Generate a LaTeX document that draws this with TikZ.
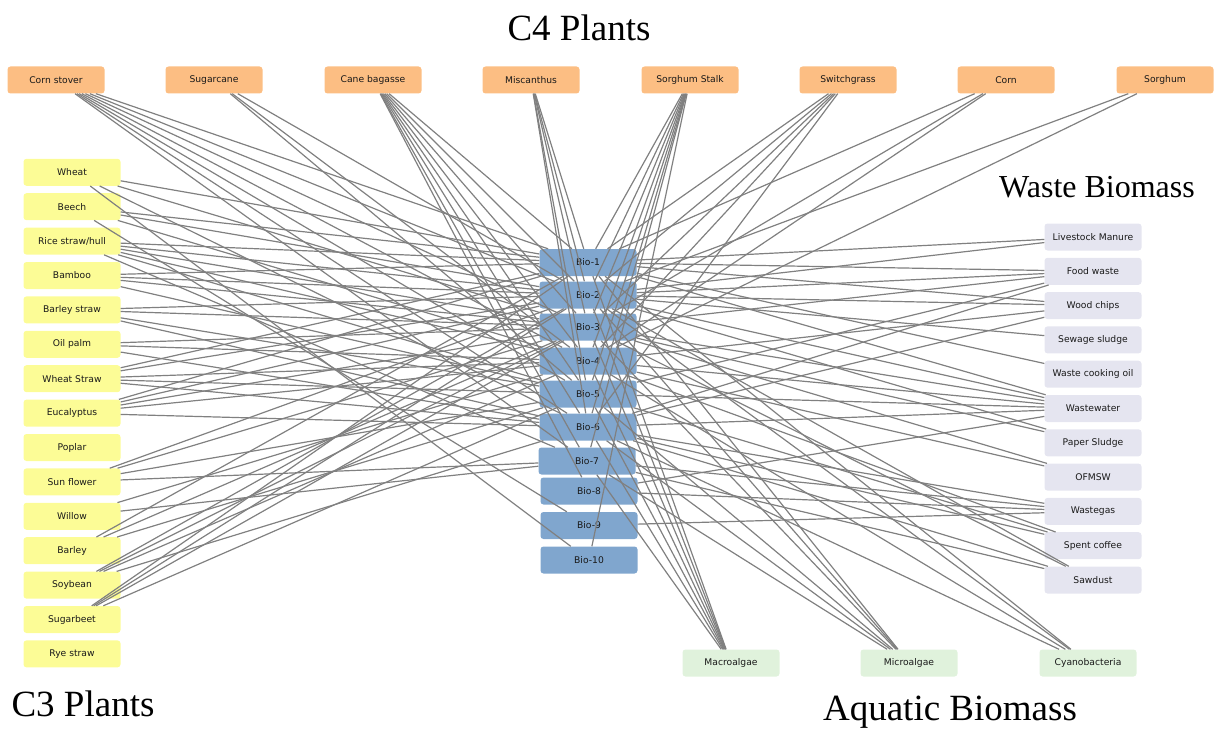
\documentclass[tikz,border=0pt]{standalone}
\usepackage{fontspec}
\setmainfont{Liberation Serif}
\newfontfamily\boxfont{DejaVu Sans}
\definecolor{cfour}{RGB}{252,190,131}
\definecolor{cthree}{RGB}{252,252,150}
\definecolor{waste}{RGB}{229,229,240}
\definecolor{aqua}{RGB}{224,242,220}
\definecolor{biofill}{RGB}{128,166,206}
\definecolor{edgegray}{RGB}{128,128,128}
\definecolor{boxtext}{RGB}{25,25,25}
\tikzset{
  box/.style={rounded corners=3pt, minimum width=97pt, minimum height=27pt,
    inner sep=0pt, font=\boxfont\fontsize{9.2}{10}\selectfont, text=boxtext},
  cfourbox/.style={box, fill=cfour},
  cthreebox/.style={box, fill=cthree},
  wastebox/.style={box, fill=waste},
  aquabox/.style={box, fill=aqua},
  biobox/.style={box, fill=biofill},
  link/.style={draw=edgegray, line width=1.2pt},
  grouptitle/.style={font=\fontsize{37}{40}\selectfont, text=black}
}
\begin{document}
\begin{tikzpicture}[x=1pt,y=-1pt]
\useasboundingbox (0,0) rectangle (1222,733);

% group titles
\node[grouptitle] (tc4) at (579,28) {C4 Plants};
\node[grouptitle, font=\fontsize{32}{36}\selectfont] (twaste) at (1097,187) {Waste Biomass};
\node[grouptitle] (tc3) at (83,704) {C3 Plants};
\node[grouptitle] (taqua) at (950,712) {Aquatic Biomass};

% C4 plants (top row)
\node[cfourbox] (cs) at (56,80)   {Corn stover};
\node[cfourbox] (sc) at (214,80)  {Sugarcane};
\node[cfourbox] (cb) at (373,80)  {Cane bagasse};
\node[cfourbox] (mi) at (531,80)  {Miscanthus};
\node[cfourbox] (ss) at (690,80)  {Sorghum Stalk};
\node[cfourbox] (sw) at (848,80)  {Switchgrass};
\node[cfourbox] (co) at (1006,80) {Corn};
\node[cfourbox] (so) at (1165,80) {Sorghum};

% C3 plants (left column)
\node[cthreebox] (wh) at (72,172.3) {Wheat};
\node[cthreebox] (be) at (72,206.7) {Beech};
\node[cthreebox] (ri) at (72,241.1) {Rice straw/hull};
\node[cthreebox] (ba) at (72,275.5) {Bamboo};
\node[cthreebox] (bs) at (72,309.9) {Barley straw};
\node[cthreebox] (op) at (72,344.3) {Oil palm};
\node[cthreebox] (ws) at (72,378.7) {Wheat Straw};
\node[cthreebox] (eu) at (72,413.1) {Eucalyptus};
\node[cthreebox] (po) at (72,447.5) {Poplar};
\node[cthreebox] (sf) at (72,481.9) {Sun flower};
\node[cthreebox] (wi) at (72,516.3) {Willow};
\node[cthreebox] (bl) at (72,550.7) {Barley};
\node[cthreebox] (sy) at (72,585.1) {Soybean};
\node[cthreebox] (sb) at (72,619.5) {Sugarbeet};
\node[cthreebox] (ry) at (72,653.9) {Rye straw};

% waste biomass (right column)
\node[wastebox] (lm)  at (1093,237.0) {Livestock Manure};
\node[wastebox] (fw)  at (1093,271.3) {Food waste};
\node[wastebox] (wc)  at (1093,305.6) {Wood chips};
\node[wastebox] (ssl) at (1093,339.9) {Sewage sludge};
\node[wastebox] (wco) at (1093,374.2) {Waste cooking oil};
\node[wastebox] (ww)  at (1093,408.5) {Wastewater};
\node[wastebox] (ps)  at (1093,442.8) {Paper Sludge};
\node[wastebox] (of)  at (1093,477.1) {OFMSW};
\node[wastebox] (wg)  at (1093,511.4) {Wastegas};
\node[wastebox] (sp)  at (1093,545.7) {Spent coffee};
\node[wastebox] (sa)  at (1093,580.0) {Sawdust};

% aquatic biomass (bottom row)
\node[aquabox] (ma) at (731,663)  {Macroalgae};
\node[aquabox] (mc) at (909,663)  {Microalgae};
\node[aquabox] (cy) at (1088,663) {Cyanobacteria};

% conversion routes (centre column)
\node[biobox] (b1)  at (588,262.5) {Bio-1};
\node[biobox] (b2)  at (588,295)   {Bio-2};
\node[biobox] (b3)  at (588,327)   {Bio-3};
\node[biobox] (b4)  at (588,361)   {Bio-4};
\node[biobox] (b5)  at (588,394)   {Bio-5};
\node[biobox] (b6)  at (588,427)   {Bio-6};
\node[biobox] (b7)  at (587,461)   {Bio-7};
\node[biobox] (b8)  at (589,491)   {Bio-8};
\node[biobox] (b9)  at (589,525.5) {Bio-9};
\node[biobox] (b10) at (589,560)   {Bio-10};

% feedstock -> route links
\foreach \s/\t in {
  cs/1,cs/2,cs/3,cs/4,cs/5,cs/6,cs/7,
  sc/2,sc/4,sc/5,
  cb/1,cb/2,cb/3,cb/4,cb/5,cb/6,cb/7,cb/8,
  mi/1,mi/2,mi/3,mi/5,mi/6,
  ss/1,ss/2,ss/3,ss/4,ss/5,ss/6,ss/7,ss/10,
  sw/1,sw/2,sw/3,sw/4,sw/6,
  co/1,co/3,co/4,
  so/2,so/4,
  wh/1,wh/3,wh/6,wh/10,
  be/1,be/2,be/4,be/9,
  ri/1,ri/2,ri/3,ri/4,ri/5,ri/7,
  ba/1,ba/2,ba/3,ba/5,
  bs/2,bs/3,bs/5,bs/6,
  op/3,op/4,op/6,
  ws/1,ws/2,ws/4,ws/5,ws/6,
  eu/1,eu/2,eu/3,eu/4,eu/6,
  sf/2,sf/3,sf/5,sf/7,
  wi/4,wi/7,
  bl/1,bl/3,bl/5,
  sy/2,sy/3,sy/4,sy/6,
  sb/1,sb/2,sb/3,sb/5,
  lm/1,lm/2,
  fw/1,fw/2,fw/3,fw/5,fw/6,
  wc/1,wc/2,wc/4,wc/6,
  ssl/2,
  wco/1,
  ww/1,ww/2,ww/3,ww/4,ww/5,ww/6,ww/8,
  ps/2,ps/3,
  of/3,of/4,
  wg/6,wg/7,wg/8,wg/9,
  sp/4,sp/5,sp/6,
  sa/2,sa/3,sa/6,sa/7,
  ma/1,ma/2,ma/3,ma/4,ma/5,ma/6,ma/7,
  mc/1,mc/2,mc/3,mc/5,mc/6,mc/7,
  cy/1,cy/2,cy/4,cy/6}
  \draw[link] (\s) -- (b\t);
\end{tikzpicture}
\end{document}
